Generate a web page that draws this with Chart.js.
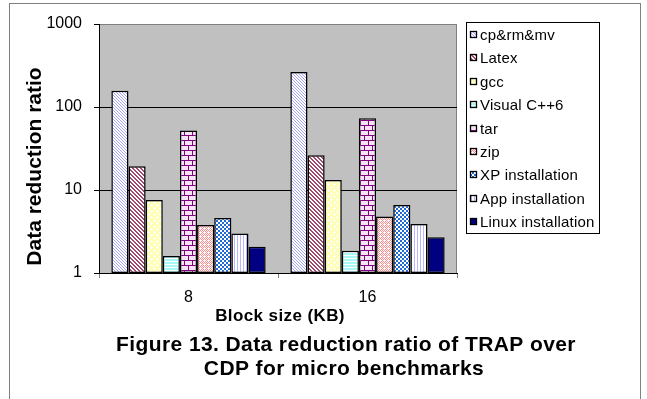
<!DOCTYPE html>
<html>
<head>
<meta charset="utf-8">
<script src="https://cdn.jsdelivr.net/npm/chart.js@4.4.1/dist/chart.umd.min.js"></script>
<style>
  html, body { margin: 0; padding: 0; background: #ffffff; }
  #wrap { width: 647px; height: 399px; position: relative; }
  canvas { display: block; }
</style>
</head>
<body>
<div id="wrap"><canvas id="c" width="647" height="399" style="width:647px;height:399px"></canvas></div>
<script>
// Block sizes on the x axis
const blockSizes = ['8', '16'];

// Benchmark names (legend order)
const benchmarks = ['cp&rm&mv', 'Latex', 'gcc', 'Visual C++6', 'tar', 'zip',
                    'XP installation', 'App installation', 'Linux installation'];

// Data reduction ratio per benchmark, for 8 KB and 16 KB blocks
const cpRmMv       = [157, 264];
const latex        = [19.3, 26.2];
const gcc          = [7.6, 13.2];
const visualCpp6   = [1.6, 1.86];
const tar          = [52, 73];
const zip          = [3.8, 4.8];
const xpInstall    = [4.6, 6.6];
const appInstall   = [3.0, 3.9];
const linuxInstall = [2.07, 2.69];

// Decade ticks of the log axis
const yTicks = [1, 10, 100, 1000];

const FONT = "'Liberation Sans', Arial, sans-serif";

// ---- fill patterns -------------------------------------------------------
function makePattern(w, h, bg, cells) {
  const c = document.createElement('canvas');
  c.width = w; c.height = h;
  const g = c.getContext('2d');
  g.fillStyle = bg;
  g.fillRect(0, 0, w, h);
  for (const [color, test] of cells) {
    g.fillStyle = color;
    for (let y = 0; y < h; y++)
      for (let x = 0; x < w; x++)
        if (test(x, y)) g.fillRect(x, y, 1, 1);
  }
  return document.createElement('canvas').getContext('2d').createPattern(c, 'repeat');
}
const mod = (a, n) => ((a % n) + n) % n;

const fills = [
  // light downward diagonal
  makePattern(3, 3, '#ffffff', [['#a4a4ff', (x, y) => mod(x - y, 3) === 0]]),
  // dark downward diagonal
  makePattern(4, 4, '#ffffff', [['#a0486e', (x, y) => mod(x - y, 4) <= 1]]),
  // pale yellow with white dots
  makePattern(6, 6, '#ffffb4', [['#ffffff', (x, y) =>
    (Math.abs(x - 1) + Math.abs(y - 1) <= 1) || (Math.abs(x - 4) + Math.abs(y - 4) <= 1)]]),
  // light cyan horizontal lines
  makePattern(3, 3, '#ffffff', [['#a8f8f8', (x, y) => y !== 0]]),
  // purple bricks
  makePattern(8, 10, '#f4e4f4', [['#800080', (x, y) =>
    y === 0 || y === 5 || (y < 5 && x === 0) || (y > 5 && x === 4)]]),
  // pink speckle
  makePattern(4, 4, '#ffffff', [['#ff8c8c', (x, y) =>
    mod(x + y, 2) === 0 && !(x === 0 && y === 0)]]),
  // blue small checkerboard
  makePattern(4, 4, '#ffffff', [['#1f6ad6', (x, y) =>
    (x < 2 && y < 2) || (x >= 2 && y >= 2)]]),
  // lavender vertical lines
  makePattern(3, 3, '#ffffff', [['#b8b8ff', (x, y) => x === 0]]),
  // solid navy
  '#000080'
];

const seriesValues = [cpRmMv, latex, gcc, visualCpp6, tar, zip, xpInstall, appInstall, linuxInstall];

const datasets = benchmarks.map((name, i) => ({
  label: name,
  data: seriesValues[i],
  backgroundColor: fills[i],
  borderColor: '#000000',
  borderWidth: 1.5,
  borderSkipped: false,
  barPercentage: 1,
  categoryPercentage: 0.862
}));

// ---- frame, plot background, legend and text ----------------------------
const decor = {
  id: 'decor',
  beforeDraw(chart) {
    const ctx = chart.ctx;
    const a = chart.chartArea;
    ctx.save();
    ctx.fillStyle = '#ffffff';
    ctx.fillRect(0, 0, chart.width, chart.height);
    ctx.strokeStyle = '#808080';
    ctx.lineWidth = 1;
    ctx.strokeRect(9.5, 3.5, 631, 420);
    ctx.fillStyle = '#c0c0c0';
    ctx.fillRect(a.left, a.top, a.right - a.left, a.bottom - a.top);
    ctx.beginPath();
    ctx.moveTo(a.left, a.top + 0.5);
    ctx.lineTo(a.right - 0.5, a.top + 0.5);
    ctx.lineTo(a.right - 0.5, a.bottom);
    ctx.stroke();
    ctx.restore();
  },
  afterDraw(chart) {
    const ctx = chart.ctx;
    ctx.save();
    ctx.fillStyle = '#000000';

    // y axis title
    ctx.save();
    ctx.translate(35.5, 166.5);
    ctx.rotate(-Math.PI / 2);
    ctx.font = 'bold 21px ' + FONT;
    ctx.textAlign = 'center';
    ctx.textBaseline = 'middle';
    ctx.fillText('Data reduction ratio', 0, 0);
    ctx.restore();

    // x axis title
    ctx.font = 'bold 17px ' + FONT;
    ctx.letterSpacing = '0.4px';
    ctx.textAlign = 'center';
    ctx.textBaseline = 'middle';
    ctx.fillText('Block size (KB)', 280, 316.5);

    // caption
    ctx.font = 'bold 21px ' + FONT;
    ctx.letterSpacing = '0.4px';
    ctx.textBaseline = 'alphabetic';
    ctx.fillText('Figure 13. Data reduction ratio of TRAP over', 346, 350.5);
    ctx.fillText('CDP for micro benchmarks', 344, 375);

    // legend
    ctx.letterSpacing = '0.2px';
    ctx.fillStyle = '#ffffff';
    ctx.fillRect(466.5, 22.5, 133, 211);
    ctx.strokeStyle = '#000000';
    ctx.lineWidth = 1;
    ctx.strokeRect(466.5, 22.5, 133, 211);
    ctx.font = '15px ' + FONT;
    ctx.textAlign = 'left';
    ctx.textBaseline = 'middle';
    chart.data.datasets.forEach((ds, i) => {
      const cy = Math.round(35 + i * 23.4);
      ctx.fillStyle = ds.backgroundColor;
      ctx.fillRect(470, cy - 4, 7, 7);
      ctx.strokeStyle = '#000000';
      ctx.lineWidth = 1.3;
      ctx.strokeRect(470.5, cy - 3.5, 6, 6);
      ctx.fillStyle = '#000000';
      ctx.fillText(ds.label, 480, cy + 0.5);
    });
    ctx.letterSpacing = '0px';
    ctx.restore();
  }
};

new Chart(document.getElementById('c'), {
  type: 'bar',
  data: { labels: blockSizes, datasets },
  options: {
    responsive: false,
    animation: false,
    devicePixelRatio: 1,
    layout: { padding: { left: 0, top: 24, right: 190, bottom: 96 } },
    plugins: {
      legend: { display: false },
      title: { display: false },
      tooltip: { enabled: false }
    },
    scales: {
      x: {
        offset: true,
        afterFit(scale) { scale.height = 30; },
        grid: {
          offset: true,
          drawOnChartArea: false,
          drawTicks: true,
          tickLength: 5,
          color: '#808080'
        },
        border: { display: true, color: '#000000', width: 1 },
        ticks: {
          color: '#000000',
          padding: 10,
          font: { family: FONT, size: 16 }
        }
      },
      y: {
        type: 'logarithmic',
        min: 1,
        max: 1000,
        afterFit(scale) { scale.width = 99; },
        afterBuildTicks(scale) { scale.ticks = yTicks.map(v => ({ value: v })); },
        grid: {
          drawTicks: true,
          tickLength: 5,
          color: ctx => (ctx.tick && ctx.tick.value === 1000 ? '#808080' : '#000000'),
          tickColor: '#000000'
        },
        border: { display: true, color: '#000000', width: 1 },
        ticks: {
          color: '#000000',
          padding: 12,
          font: { family: FONT, size: 16 },
          callback: v => String(v)
        }
      }
    }
  },
  plugins: [decor]
});
</script>
</body>
</html>
